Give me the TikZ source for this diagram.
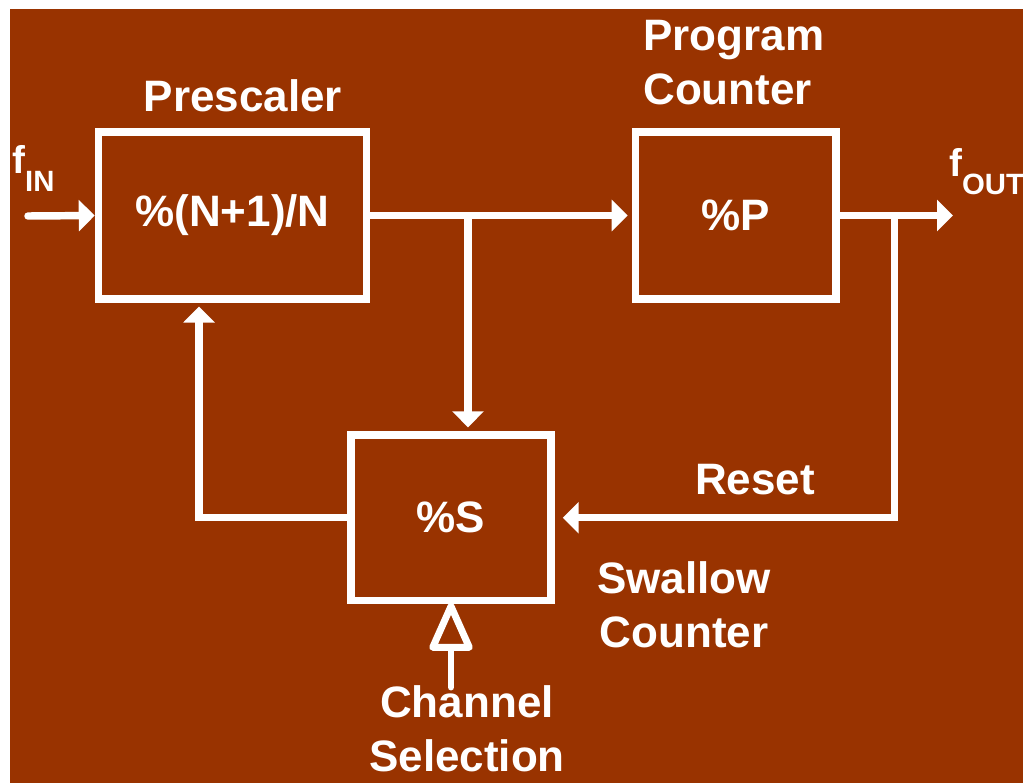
\documentclass[tikz,border=0pt]{standalone}
\usepackage{fontspec}
\setmainfont{Liberation Sans}
\usepackage{xcolor}
\usetikzlibrary{arrows.meta}
\definecolor{rust}{HTML}{993300}

\begin{document}
\begin{tikzpicture}[x=0.75pt,y=-0.75pt,
  every node/.style={text=white,inner sep=0pt,font=\bfseries\fontsize{33}{40}\selectfont},
  blk/.style={draw=white,line width=5.6pt,minimum height=125pt},
  sig/.style={white,line width=5.6pt,-{Triangle[length=12pt,width=23pt]},shorten >=3pt}]
\fill[white] (0,0) rectangle (1023,783);
\fill[rust] (10,9) rectangle (1023,783);
\useasboundingbox (0,0) rectangle (1023,783);

% blocks
\node[blk,minimum width=201pt] (presc) at (232.5,215.5) {\%(N+1)/N};
\node[blk,minimum width=150.5pt] (prog) at (735.75,215.5) {\%P};
\node[blk,minimum width=150pt,minimum height=124pt] (swal) at (451,517.75) {\%S};

% labels (base = last line)
\node[anchor=base] (prescLbl) at (243,111) {Prescaler};
\node[anchor=base west,align=left] (progLbl) at (643,104) {Program\\Counter};
\node[anchor=base,align=center] (swalLbl) at (684,647) {Swallow\\Counter};
\node[anchor=base] (resetLbl) at (755,494) {Reset};
\node[anchor=base,align=center] (chanLbl) at (467,771) {Channel\\Selection};
\node[anchor=base west] (finLbl) at (12,173)
  {\fontsize{29}{30}\selectfont f\raisebox{-13.5pt}{\fontsize{22}{22}\selectfont IN}};
\node[anchor=base west] (foutLbl) at (949,176)
  {\fontsize{29}{30}\selectfont f\raisebox{-13.5pt}{\fontsize{22}{22}\selectfont OUT}};

% signal paths
\coordinate (fin) at (28,216);
\coordinate (fout) at (953,215.5);
\coordinate (split) at (468,215.5);
\coordinate (tap) at (894.5,215.5);
\coordinate (fb) at (199,516.7);
\coordinate (chan) at (451,687);

\draw[sig,line cap=round,shorten >=0pt] (fin) -- (presc.west);
\draw[sig] (presc.east) -- (prog.west);
\draw[sig] (split) -- (split |- swal.north);
\draw[sig,shorten >=0pt] (prog.east) -- (fout);
\draw[sig,shorten >=6pt] (tap) |- (swal.east);
\draw[sig] (swal.west) -| (fb |- presc.south);
\draw[white,line width=5.2pt,line cap=round,shorten >=-1pt,
  -{Triangle[open,round,length=40pt,width=34pt]}] (chan) -- (swal.south);
\end{tikzpicture}
\end{document}
